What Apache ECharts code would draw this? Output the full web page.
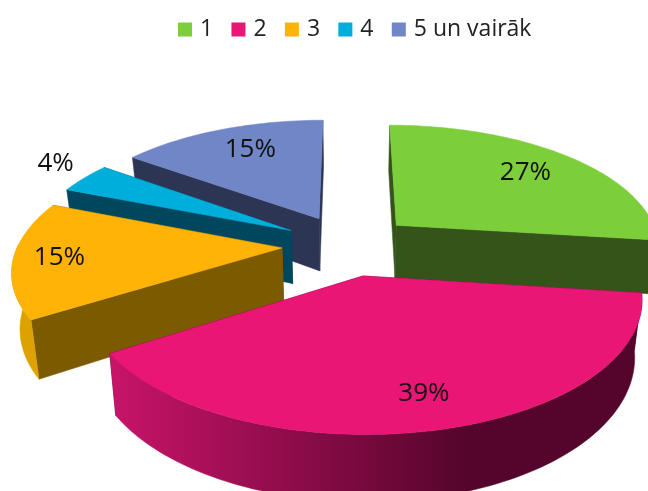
<!DOCTYPE html>
<html>
<head>
<meta charset="utf-8">
<style>html,body{margin:0;padding:0;background:#fff}#c{width:648px;height:491px}</style>
<script src="https://cdn.jsdelivr.net/npm/echarts@6/dist/echarts.min.js"></script>
</head>
<body>
<div id="c"></div>
<script>
const categories = ['1', '2', '3', '4', '5 un vairāk'];
const values = [27, 39, 15, 4, 15];
const percentLabels = ['27%', '39%', '15%', '4%', '15%'];

const topColors = ['#7dce3b', '#e91675', '#ffb306', '#00aedb', '#7086c6'];
const sideColors = ['#34541a', '#5a062e', '#7c5a00', '#00465c', '#2c3554'];
const wallLeft = ['#34541a', '#c8146a', '#d9a000', '#00465c', '#2c3554'];
const wallRight = ['#34541a', '#55052b', '#e0a400', '#00465c', '#2c3554'];
const wallFade = [1, 0.67, 1, 1, 1];
const paintOrder = [5, 6, 4, 3, 2];
const labelRadius = [0.74, 0.80, 0.83, 1.20, 0.74];
const labelTurn = [0, -0.015, 0, 0.05, 0.04];

const view = { cx: 348, cy: 245, R: 264, A: 122, k: 0.16, e: 0.25, H: 54, taper: 0.975 };

const total = values.reduce((a, b) => a + b, 0);
function project(wx, wz, drop) {
  const s = 1 / (1 - view.k * wz);
  return [
    view.cx + wx * view.R * s * (drop ? view.taper : 1),
    view.cy + view.A * wz * s + (drop ? view.H * s : 0)
  ];
}
function sliceShapes(i) {
  let acc = 0;
  for (let j = 0; j < i; j++) acc += values[j];
  const a0 = acc / total * Math.PI * 2;
  const a1 = (acc + values[i]) / total * Math.PI * 2;
  const m = (a0 + a1) / 2;
  const ex = Math.sin(m) * view.e, ez = -Math.cos(m) * view.e;
  const pt = (a, r, drop) => project(ex + Math.sin(a) * r, ez - Math.cos(a) * r, drop);
  const arcTop = [], arcBot = [], frontTop = [], frontBot = [];
  const n = Math.max(8, Math.ceil((a1 - a0) * 40));
  for (let t = 0; t <= n; t++) {
    const a = a0 + (a1 - a0) * t / n;
    const pTop = pt(a, 1, false), pBot = pt(a, 1, true);
    arcTop.push(pTop);
    arcBot.push(pBot);
    if (Math.cos(a) < 0.05) { frontTop.push(pTop); frontBot.push(pBot); }
  }
  return {
    top: [pt(0, 0, false)].concat(arcTop),
    sideA: [pt(0, 0, false), arcTop[0], arcBot[0], pt(0, 0, true)],
    sideB: [pt(0, 0, false), arcTop[n], arcBot[n], pt(0, 0, true)],
    wall: frontTop.concat(frontBot.slice().reverse()),
    label: pt(m + labelTurn[i], labelRadius[i], false)
  };
}
function renderSlice(params) {
  const i = params.seriesIndex;
  const g = sliceShapes(i);
  const poly = (points, fill) => ({
    type: 'polygon', shape: { points }, style: { fill, stroke: fill, lineWidth: 0.5 }
  });
  const children = [poly(g.sideA, sideColors[i]), poly(g.sideB, sideColors[i])];
  if (g.wall.length > 2) {
    children.push(poly(g.wall, new echarts.graphic.LinearGradient(0, 0, 1, 0, [
      { offset: 0, color: wallLeft[i] },
      { offset: wallFade[i], color: wallRight[i] },
      { offset: 1, color: wallRight[i] }
    ])));
  }
  children.push(poly(g.top, topColors[i]));
  children.push({
    type: 'text', x: g.label[0], y: g.label[1], z2: 10,
    style: {
      text: percentLabels[i], fill: '#111', font: '26px "Open Sans"',
      align: 'center', verticalAlign: 'middle'
    }
  });
  return { type: 'group', children };
}
const chart = echarts.init(document.getElementById('c'), null, { renderer: 'canvas' });
chart.setOption({
  animation: false,
  color: topColors,
  legend: {
    data: categories, left: 173, top: 13, itemWidth: 14, itemHeight: 14, itemGap: 18.3,
    icon: 'rect', selectedMode: false,
    textStyle: { fontFamily: 'Open Sans', fontSize: 23, color: '#222', padding: [0, 0, 0, 3] }
  },
  series: categories.map((name, i) => ({
    type: 'custom', name, coordinateSystem: 'none', z: paintOrder[i],
    silent: true, itemStyle: { color: topColors[i] },
    data: [values[i]],
    renderItem: renderSlice
  }))
});
</script>
</body>
</html>
